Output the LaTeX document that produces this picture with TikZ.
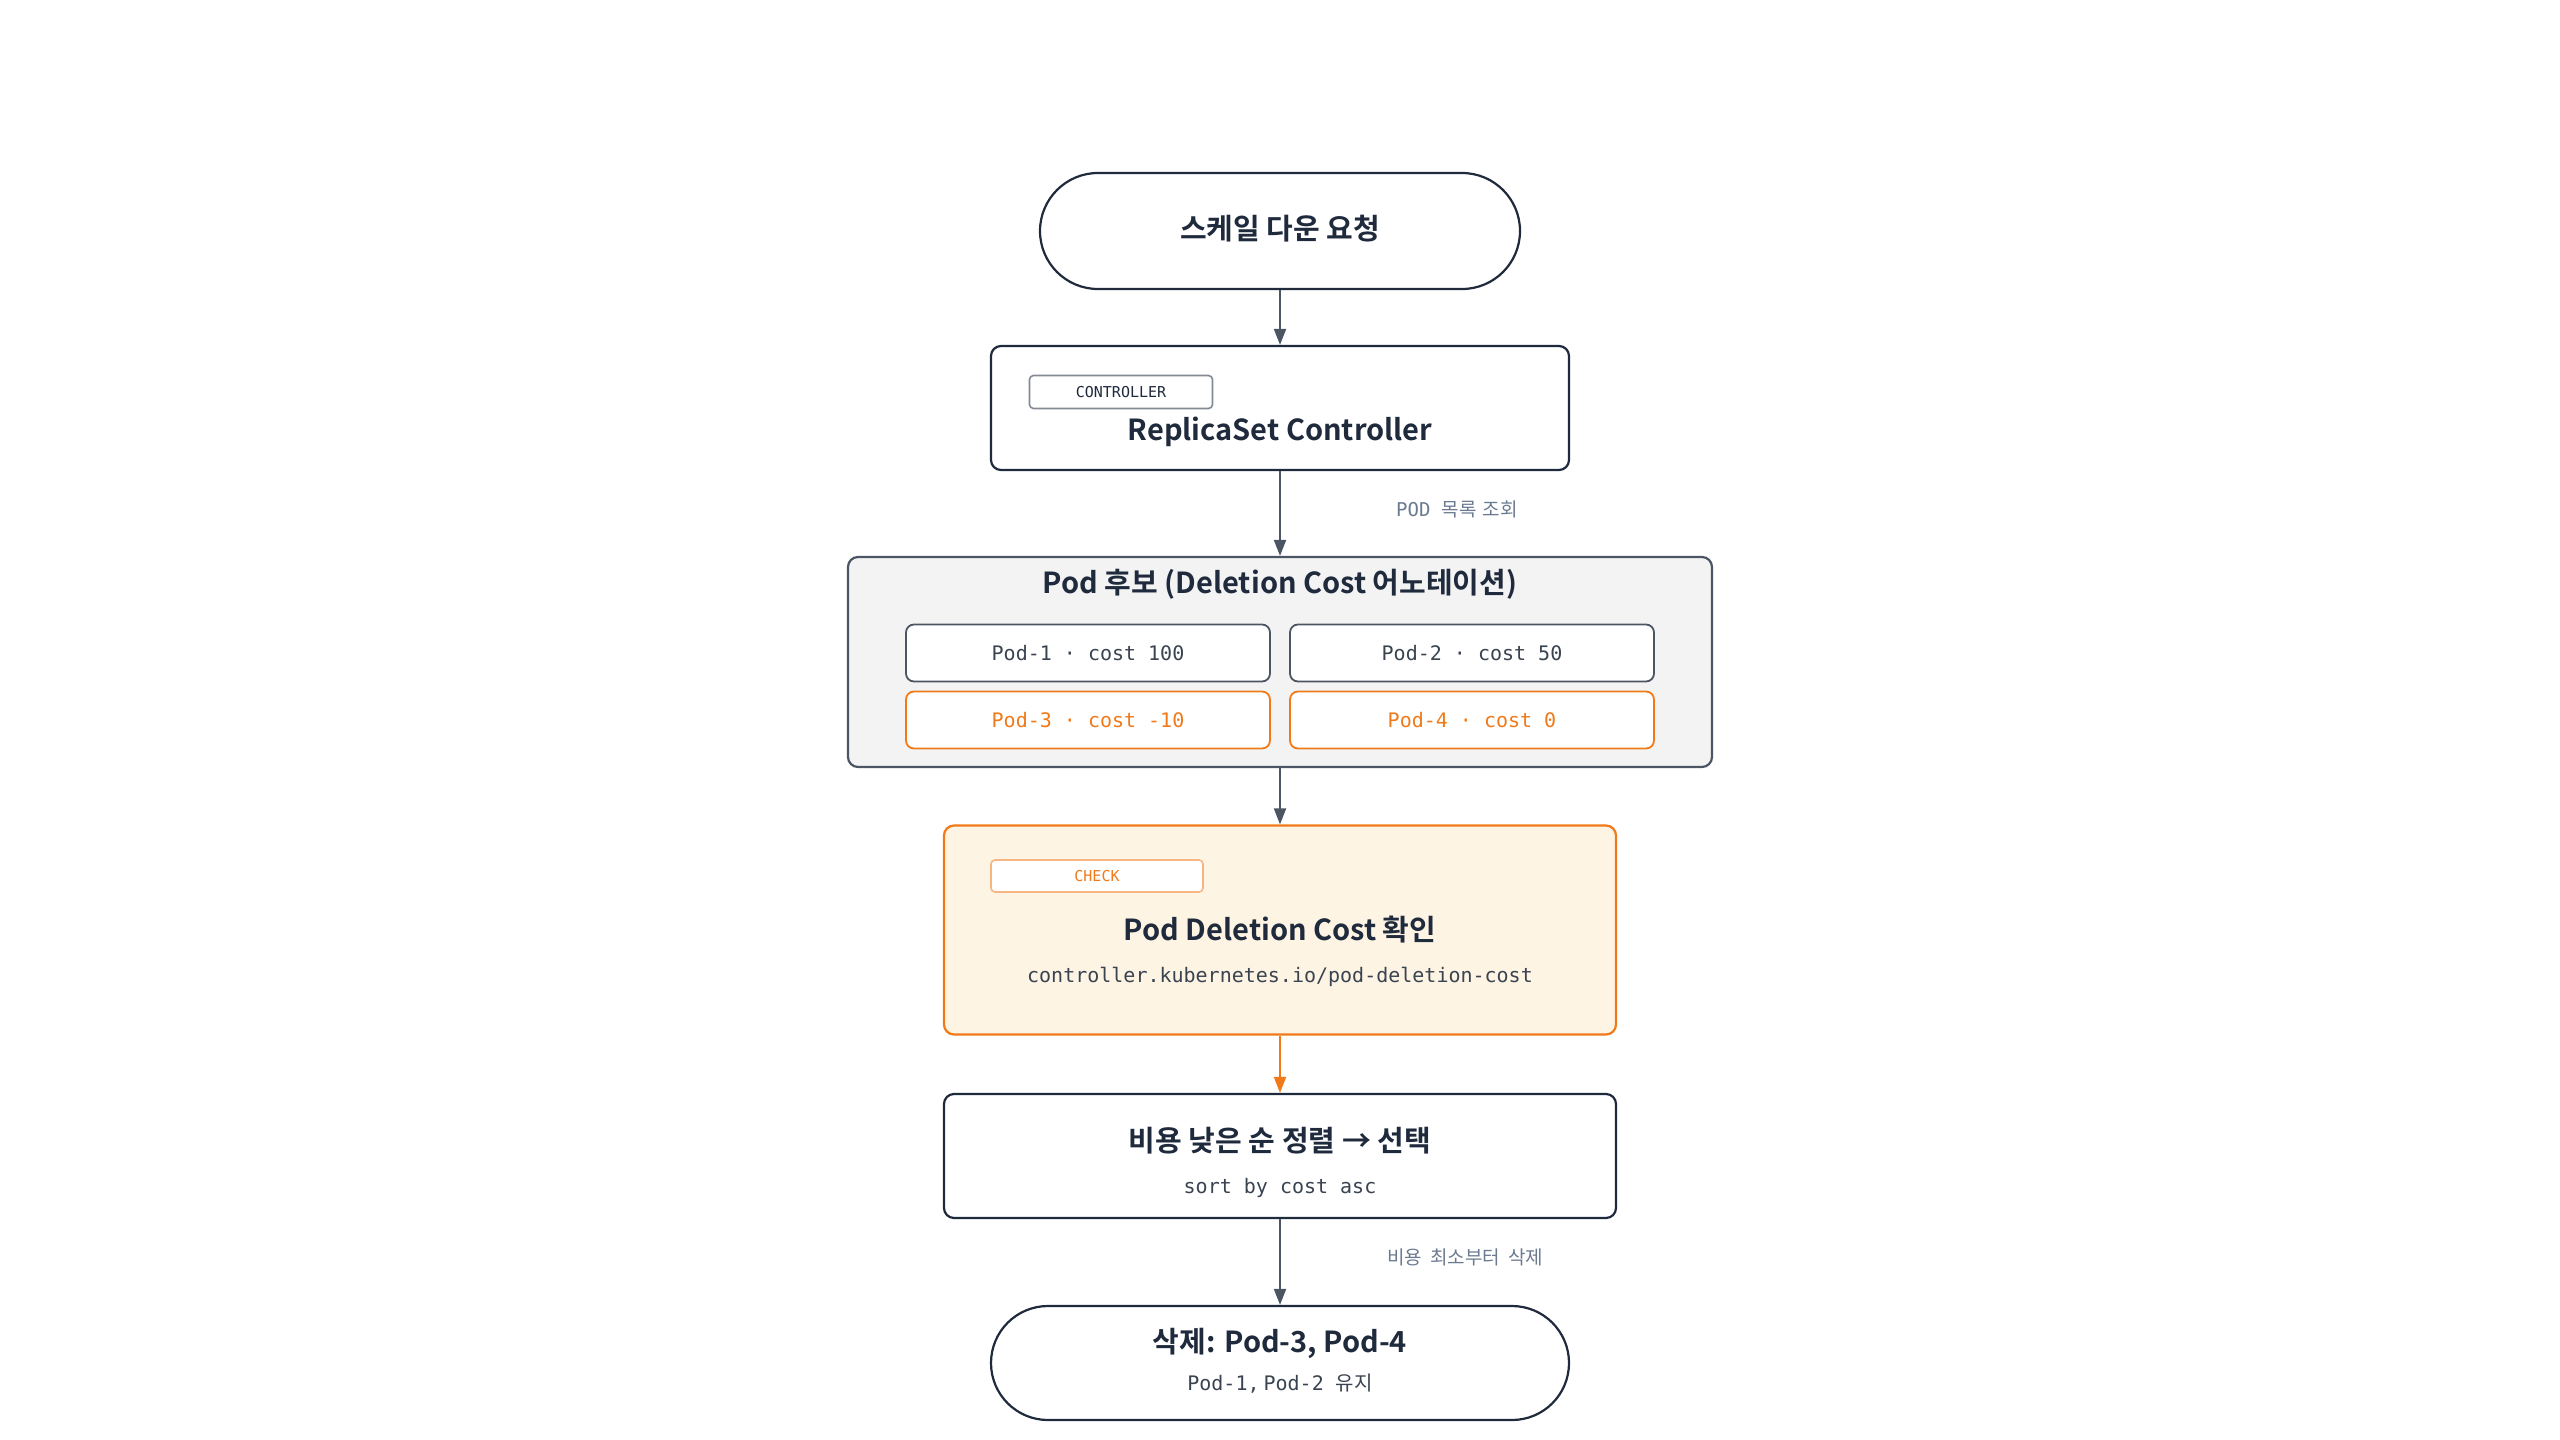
\documentclass[tikz,border=0pt]{standalone}
\usepackage{fontspec}
\setmainfont{Noto Sans CJK KR}
\setmonofont{DejaVu Sans Mono}
\newfontfamily\kr{Noto Sans CJK KR}
\newfontfamily\krb{Noto Sans CJK KR Bold}
\usetikzlibrary{arrows.meta}
\definecolor{ink}{HTML}{1F2A3C}
\definecolor{arr}{HTML}{4B5563}
\definecolor{org}{HTML}{F07A1A}
\definecolor{orgf}{HTML}{FEF4E4}
\definecolor{candf}{HTML}{F3F3F4}
\definecolor{lbl}{HTML}{6B7A90}
\definecolor{txt}{HTML}{3A4350}
\begin{document}
\begin{tikzpicture}[x=1pt,y=-1pt,
  box/.style={draw=ink,line width=2.2pt,rounded corners=10pt,fill=white},
  tag/.style={draw=#1!55,line width=1.6pt,rounded corners=4pt,fill=white,font=\ttfamily\fontsize{15}{18}\selectfont,text=#1},
  title/.style={font=\krb\fontsize{29}{34}\selectfont,text=ink,inner sep=0},
  mono/.style={font=\ttfamily\fontsize{20}{24}\selectfont,text=txt,inner sep=0},
  pod/.style={draw=ink!80,line width=1.8pt,rounded corners=8pt,fill=white,minimum width=364pt,minimum height=57pt,font=\ttfamily\fontsize{20}{24}\selectfont,text=txt},
  opod/.style={pod,draw=org,text=org},
  elbl/.style={font=\kr\fontsize{19}{22}\selectfont,text=lbl,anchor=west,inner sep=0},
  ar/.style={draw=arr,line width=2pt,-{Triangle[length=16pt,width=12pt]}}]
\useasboundingbox (0,0) rectangle (2560,1440);
% start
\node[box,rounded corners=58pt,minimum width=480pt,minimum height=116pt] (start) at (1280,231) {};
\node[title] (startt) at (1280,229) {스케일 다운 요청};
% controller
\node[box,minimum width=578pt,minimum height=124pt] (ctrl) at (1280,408) {};
\node[tag=ink,minimum width=183pt,minimum height=33pt] (ctag) at (1121,392) {CONTROLLER};
\node[title] (ctrlt) at (1280,432) {ReplicaSet Controller};
% candidates
\node[box,draw=arr,fill=candf,minimum width=864pt,minimum height=210pt] (cand) at (1280,662) {};
\node[title] (candt) at (1280,584) {Pod 후보 (Deletion Cost 어노테이션)};
\node[pod] (p1) at (1088,653) {Pod-1 · cost 100};
\node[pod] (p2) at (1472,653) {Pod-2 · cost 50};
\node[opod] (p3) at (1088,720) {Pod-3 · cost -10};
\node[opod] (p4) at (1472,720) {Pod-4 · cost 0};
% check
\node[box,draw=org,fill=orgf,minimum width=672pt,minimum height=209pt] (chk) at (1280,930) {};
\node[tag=org,minimum width=212pt,minimum height=32pt] (chtag) at (1097,876) {CHECK};
\node[title] (chkt) at (1280,930) {Pod Deletion Cost 확인};
\node[mono] (chks) at (1280,977) {controller.kubernetes.io/pod-deletion-cost};
% sort
\node[box,minimum width=672pt,minimum height=124pt] (sort) at (1280,1156) {};
\node[title] (sortt) at (1280,1141) {비용 낮은 순 정렬 → 선택};
\node[mono] (sorts) at (1280,1188) {sort by cost asc};
% end
\node[box,rounded corners=57pt,minimum width=578pt,minimum height=114pt] (end) at (1280,1363) {};
\node[title] (endt) at (1280,1343) {삭제: Pod-3, Pod-4};
\node[mono] (ends) at (1280,1384) {Pod-1,\hspace{4pt}Pod-2 {\kr 유지}};
% arrows
\draw[ar] (start) -- (ctrl);
\draw[ar] (ctrl) -- (cand);
\draw[ar] (cand) -- (chk);
\draw[ar,draw=org,-{Triangle[length=16pt,width=12pt,fill=org]}] (chk) -- (sort);
\draw[ar] (sort) -- (end);
\node[elbl] (l1) at (1396,509) {\ttfamily POD {\kr 목록\hspace{6pt}조회}};
\node[elbl] (l2) at (1387,1257) {비용\hspace{8pt}최소부터\hspace{8pt}삭제};
\end{tikzpicture}
\end{document}
